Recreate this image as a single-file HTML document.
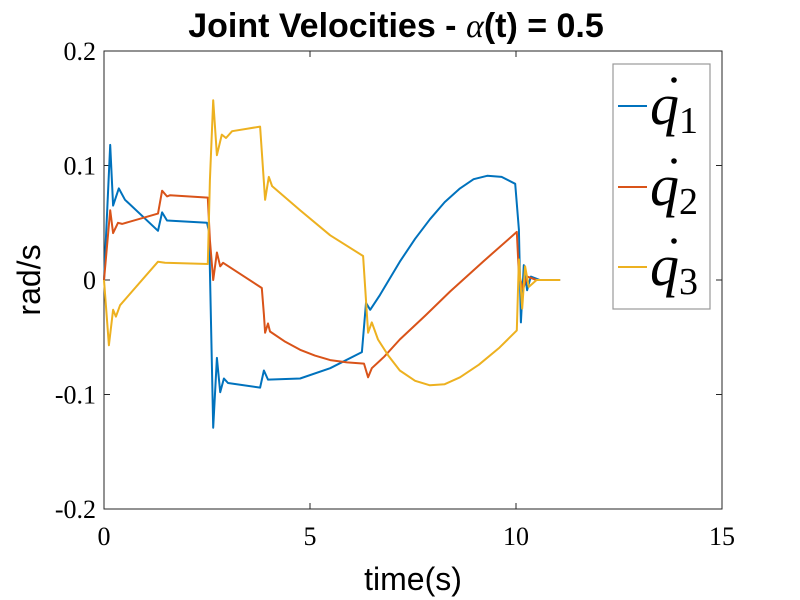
<!DOCTYPE html>
<html><head><meta charset="utf-8"><style>
body{margin:0;background:#fff}
svg{display:block}
</style></head><body>
<svg id="chart" width="800" height="600" viewBox="0 0 800 600" xmlns="http://www.w3.org/2000/svg">
<rect x="0" y="0" width="800" height="600" fill="#fff"/>
<text x="396" y="37" text-anchor="middle" font-family="Liberation Sans, sans-serif" font-weight="bold" font-size="34">Joint Velocities - <tspan font-family="Liberation Serif, serif" font-style="italic" font-weight="normal">α</tspan>(t) = 0.5</text>
<g id="plot"></g>
<text x="413" y="590" text-anchor="middle" font-family="Liberation Sans, sans-serif" font-size="32">time(s)</text>
<text transform="translate(40,280) rotate(-90)" text-anchor="middle" font-family="Liberation Sans, sans-serif" font-size="32">rad/s</text>
<g>
<rect x="613" y="64" width="97" height="245" fill="#fff" stroke="#999" stroke-width="1.2"/>
<g>
<line x1="618" y1="106" x2="647" y2="106" stroke="#0072BD" stroke-width="2"/>
<text x="650" y="124" font-family="Liberation Serif, serif" font-style="italic" font-size="58">q<tspan font-style="normal" font-size="38" dy="9">1</tspan></text>
<circle cx="674" cy="80" r="2.8" fill="#000"/></g>
<g>
<line x1="618" y1="187" x2="647" y2="187" stroke="#D95319" stroke-width="2"/>
<text x="650" y="205" font-family="Liberation Serif, serif" font-style="italic" font-size="58">q<tspan font-style="normal" font-size="38" dy="9">2</tspan></text>
<circle cx="674" cy="161" r="2.8" fill="#000"/></g>
<g>
<line x1="618" y1="267" x2="647" y2="267" stroke="#EDB120" stroke-width="2"/>
<text x="650" y="285" font-family="Liberation Serif, serif" font-style="italic" font-size="58">q<tspan font-style="normal" font-size="38" dy="9">3</tspan></text>
<circle cx="674" cy="241" r="2.8" fill="#000"/></g>
</g>
</svg>
<script>
const xTicks=[0,5,10,15];
const yTicks=[-0.2,-0.1,0,0.1,0.2];
const yTickLabels=["-0.2","-0.1","0","0.1","0.2"];
const t1=[0,0.15,0.22,0.36,0.51,1.31,1.41,1.53,2.50,2.55,2.65,2.74,2.82,2.91,3.01,3.79,3.88,3.98,4.76,5.49,6.26,6.36,6.46,6.70,7.18,7.55,7.91,8.27,8.64,8.97,9.30,9.65,9.98,10.07,10.12,10.19,10.27,10.36,10.58,11.07];
const q1=[0,0.118,0.065,0.080,0.070,0.043,0.059,0.052,0.050,0.042,-0.129,-0.068,-0.098,-0.086,-0.090,-0.094,-0.079,-0.087,-0.086,-0.077,-0.063,-0.020,-0.026,-0.013,0.016,0.036,0.053,0.068,0.080,0.088,0.091,0.090,0.084,0.044,-0.037,0.013,-0.009,0.003,0,0];
const t2=[0,0.15,0.22,0.34,0.44,1.31,1.41,1.53,1.60,2.52,2.57,2.65,2.74,2.82,2.89,3.83,3.88,3.91,3.98,4.03,4.40,4.76,5.12,5.49,5.90,6.31,6.41,6.50,6.80,7.18,7.80,8.40,9.20,10.02,10.07,10.17,10.27,10.5,11.07];
const q2=[0,0.061,0.041,0.050,0.049,0.058,0.078,0.073,0.074,0.072,0.035,0,0.024,0.012,0.015,-0.007,-0.030,-0.046,-0.038,-0.045,-0.054,-0.061,-0.066,-0.070,-0.072,-0.073,-0.085,-0.077,-0.067,-0.052,-0.031,-0.010,0.016,0.042,0.005,-0.008,0.003,0,0];
const t3=[0,0.12,0.22,0.29,0.39,1.31,1.48,2.52,2.57,2.65,2.74,2.86,2.96,3.11,3.79,3.91,4.00,4.08,4.76,5.49,6.29,6.41,6.50,6.65,6.90,7.18,7.55,7.91,8.27,8.64,9.10,9.60,10.02,10.07,10.15,10.22,10.31,10.5,11.07];
const q3=[0,-0.057,-0.026,-0.032,-0.022,0.016,0.015,0.014,0.087,0.157,0.109,0.127,0.124,0.130,0.134,0.070,0.090,0.082,0.061,0.039,0.021,-0.046,-0.037,-0.052,-0.066,-0.079,-0.088,-0.092,-0.091,-0.085,-0.074,-0.059,-0.044,0.018,-0.025,0.012,-0.006,0,0];

const L=104,R=722,T=51,B=509;
const xs=v=>L+(v-0)/(15-0)*(R-L);
const ys=v=>B-(v+0.2)/0.4*(B-T);
const NS="http://www.w3.org/2000/svg";
const g=document.getElementById('plot');
function mk(tag,attrs){const e=document.createElementNS(NS,tag);for(const k in attrs)e.setAttribute(k,attrs[k]);g.appendChild(e);return e;}
const box=mk('rect',{x:L,y:T,width:R-L,height:B-T,fill:'none',stroke:'#262626','stroke-width':1});


xTicks.forEach(v=>{
 const x=xs(v);
 const a=mk('line',{x1:x,y1:B,x2:x,y2:B-6,stroke:'#262626'});
 
 
 const b=mk('line',{x1:x,y1:T,x2:x,y2:T+6,stroke:'#262626'});
 
 
 const t=mk('text',{x:x,y:B+36,'text-anchor':'middle','font-family':'Liberation Serif, serif','font-size':26});
 t.textContent=String(v);
 
 
});
yTicks.forEach((v,i)=>{
 const y=ys(v);
 const a=mk('line',{x1:L,y1:y,x2:L+6,y2:y,stroke:'#262626'});
 
 
 const b=mk('line',{x1:R,y1:y,x2:R-6,y2:y,stroke:'#262626'});
 
 
 const t=mk('text',{x:L-8,y:y+9,'text-anchor':'end','font-family':'Liberation Serif, serif','font-size':26});
 t.textContent=yTickLabels[i];
 
 
});
[[t1,q1,'#0072BD','series-q1-dot'],[t2,q2,'#D95319','series-q2-dot'],[t3,q3,'#EDB120','series-q3-dot']].forEach(s=>{
 const d=s[0].map((t,i)=>(i?'L':'M')+xs(t).toFixed(1)+','+ys(s[1][i]).toFixed(1)).join('');
 const p=mk('path',{d:d,fill:'none',stroke:s[2],'stroke-width':2,'stroke-linejoin':'round'});
 
 
});
</script>
</body></html>
